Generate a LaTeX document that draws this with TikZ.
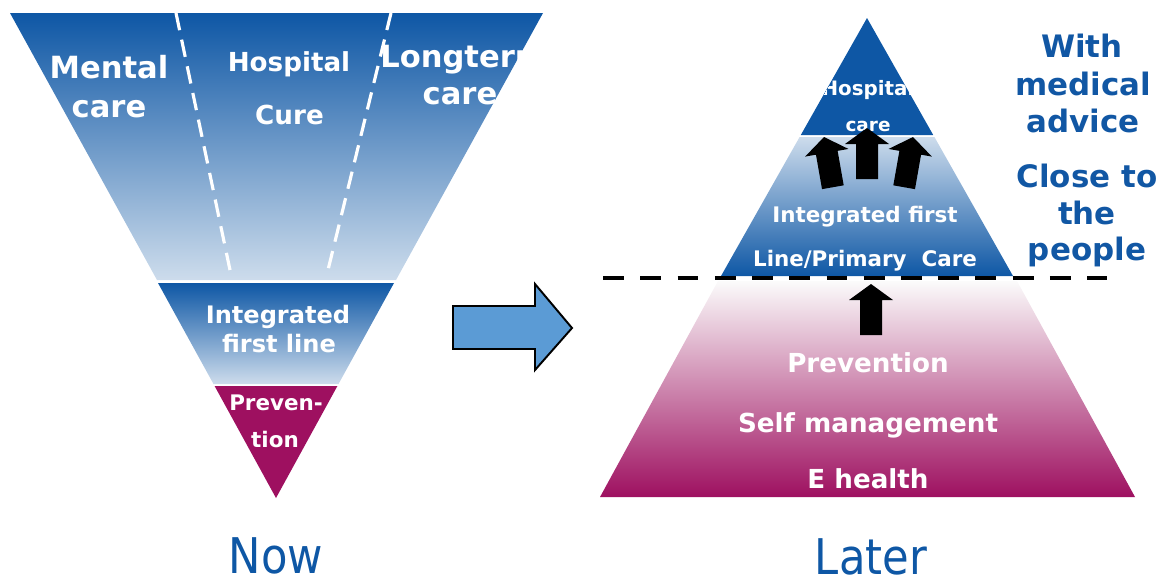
\documentclass[tikz,border=0pt]{standalone}
\usepackage{fontspec}
\setmainfont{DejaVu Sans}

\definecolor{darkblue}{RGB}{14,87,165}
\definecolor{midblue}{RGB}{92,140,196}
\definecolor{paleblue}{RGB}{205,220,236}
\definecolor{plum}{RGB}{158,16,96}
\definecolor{blush}{RGB}{251,251,251}
\definecolor{rose}{RGB}{226,200,212}
\definecolor{skyblue}{RGB}{91,155,213}
\definecolor{notetext}{RGB}{17,87,164}

\begin{document}
\begin{tikzpicture}[
    x=0.02cm, y=-0.02cm,
    lbl/.style={anchor=base, inner sep=0pt, text=white},
    txtxl/.style={lbl, font=\fontsize{17.4}{20}\selectfont\bfseries},
    txtl/.style={lbl, font=\fontsize{14.9}{18}\selectfont\bfseries},
    txtm/.style={lbl, font=\fontsize{13.7}{16}\selectfont\bfseries},
    txts/.style={lbl, font=\fontsize{12.2}{14}\selectfont\bfseries},
    txtxs/.style={lbl, font=\fontsize{10.5}{12}\selectfont\bfseries},
    note/.style={lbl, text=notetext, font=\fontsize{17.6}{20}\selectfont\bfseries},
    caption/.style={anchor=base, inner sep=0pt, text=darkblue, xscale=0.88,
        font=\fontsize{28}{33}\selectfont},
    divider/.style={white, line width=1.8pt, dash pattern=on 10pt off 5.5pt},
    cutline/.style={black, line width=2.5pt, dash pattern=on 11.9pt off 9.3pt},
    pics/uparrow/.style={code={
        \fill[black] (0,0) -- (22,16) -- (11,16) -- (11,51)
            -- (-11,51) -- (-11,16) -- (-22,16) -- cycle;}}
]
\useasboundingbox (0,0) rectangle (1168,586);

% Funnel: care sectors
\shade[top color=darkblue, middle color=midblue, bottom color=paleblue]
    (10,13) -- (543,13) -- (396,280) -- (157,280) -- cycle;
\draw[divider] (176,13) -- (230,270);
\draw[divider] (391,13) -- (328,270);

% Funnel: first line and prevention
\shade[top color=darkblue, middle color=midblue, bottom color=paleblue]
    (158,283) -- (394,283) -- (338.5,384) -- (213.5,384) -- cycle;
\fill[plum] (214.6,386) -- (337.4,386) -- (276,498) -- cycle;

% Funnel labels
\node[txtxl] (mental) at (109,78) {Mental};
\node[txtxl] (mentalcare) at (109,117) {care};
\node[txtl] (hosp) at (289,71) {Hospital};
\node[txtl] (cure) at (289.5,124) {Cure};
\begin{scope}
    \clip (10,13) -- (543,13) -- (396,280) -- (157,280) -- cycle;
    \node[txtxl] (longterm) at (463.5,67) {Longterm};
    \node[txtxl] (longcare) at (460,104) {care};
\end{scope}
\node[txtm] (integr) at (278,323) {Integrated};
\node[txtm] (firstline) at (279,352) {first line};
\node[txts] (prev) at (276,410) {Preven-};
\node[txts] (tion) at (275,447) {tion};

% Shift arrow
\draw[line width=1.1pt, fill=skyblue, line join=miter]
    (453,306) -- (535,306) -- (535,284) -- (572,328) -- (535,370)
    -- (535,349) -- (453,349) -- cycle;

% Pyramid
\fill[darkblue] (867,18) -- (933.2,135) -- (800.8,135) -- cycle;
\shade[top color=paleblue, middle color=midblue, bottom color=darkblue]
    (799.6,137) -- (934.4,137) -- (1013,276) -- (721,276) -- cycle;
\shade[top color=blush, middle color=rose, bottom color=plum]
    (718,281) -- (1017,281) -- (1135,497) -- (600,497) -- cycle;

% Pyramid labels
\begin{scope}
    \clip (867,18) -- (933.2,135) -- (800.8,135) -- cycle;
    \node[lbl, font=\fontsize{11.3}{13}\selectfont\bfseries] (phosp) at (868,95) {Hospital};
    \node[txtxs] (pcare) at (868,131) {care};
\end{scope}
\node[txts] (pintegr) at (865,222) {Integrated first};
\node[txts] (pprim) at (865,266) {Line/Primary~~Care};
\foreach \txt/\y [count=\i] in {Prevention/372, Self management/432, E health/488}
    \node[txtl] (base\i) at (868,\y) {\txt};

% Arrows up
\pic (upL) [rotate=10] at (824,137) {uparrow};
\pic (upM) at (867,128) {uparrow};
\pic (upR) [rotate=-10] at (913,137) {uparrow};
\pic (upB) at (871,284) {uparrow};

% Dashed boundary
\coordinate (cutL) at (603,278);
\coordinate (cutR) at (1107,278);
\draw[cutline] (cutL) -- (cutR);

% Side notes
\foreach \txt/\x/\y [count=\i] in {With/1082/57, medical/1083/95, advice/1083/132,
    Close to/1087/187, the/1087/224, people/1087/260}
    \node[note] (note\i) at (\x,\y) {\txt};

% Captions
\node[caption] (now) at (276,573) {Now};
\node[caption] (later) at (871,574) {Later};

\end{tikzpicture}
\end{document}
